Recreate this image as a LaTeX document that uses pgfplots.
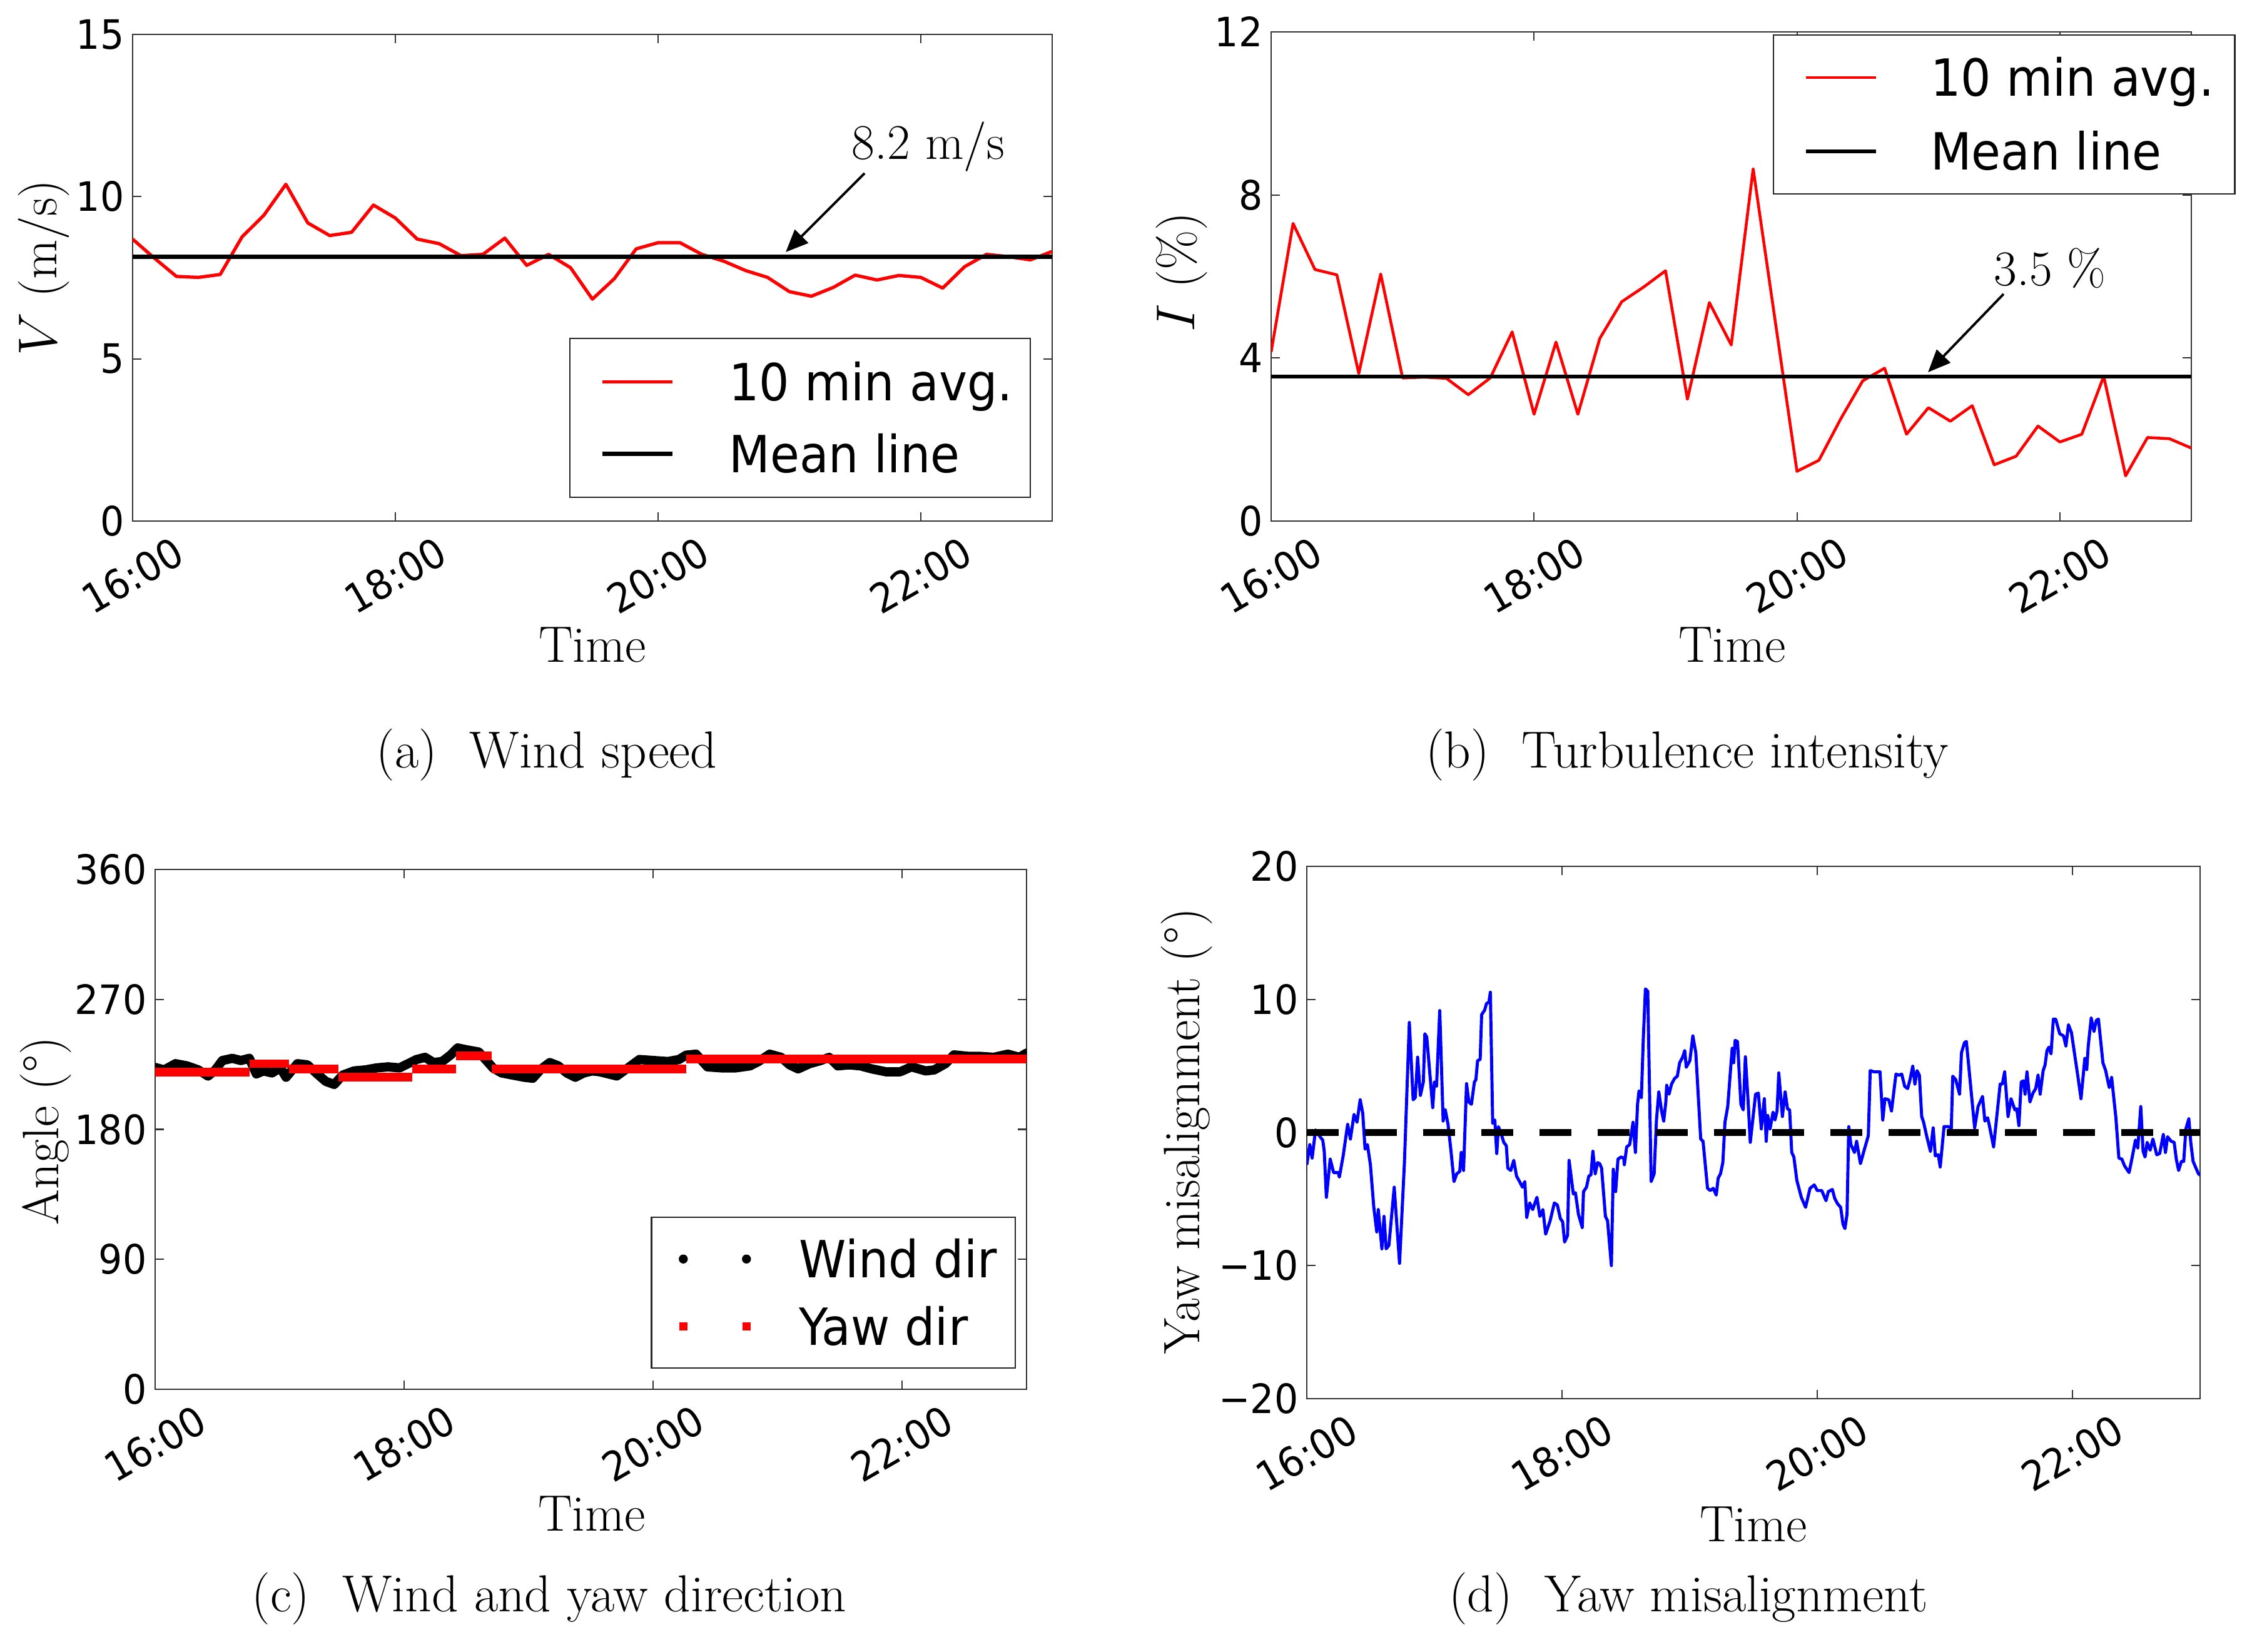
\documentclass[border=0pt]{standalone}
\usepackage{fontspec}
\usepackage{pgfplots}
\pgfplotsset{compat=1.18}
\usetikzlibrary{arrows.meta}
\newfontfamily\sansfam[FakeStretch=0.93]{DejaVu Sans}
\newcommand\tickfont{\sansfam\fontsize{18.4}{22}\selectfont}
\newcommand\legfont{\sansfam\fontsize{23.3}{27}\selectfont}
\newcommand\labfont{\fontsize{23.3}{27}\selectfont}
\newcommand\annfont{\fontsize{22.7}{27}\selectfont}
\newcommand\capfont{\fontsize{23.7}{28}\selectfont}

\pgfplotsset{
  panel/.style={
    scale only axis,
    xmin=0, xmax=420,
    xtick={0,120,240,360},
    xticklabels={16:00,18:00,20:00,22:00},
    axis line style={draw=black!80, line width=0.8pt},
    tick style={black!80, line width=0.6pt},
    major tick length=1.4mm,
    tick align=inside,
    ticklabel style={font=\tickfont},
    xticklabel style={yshift=-8.7mm, rotate=30, anchor=center, inner sep=0pt},
    yticklabel style={anchor=east, inner sep=0pt, xshift=-1.3mm},
    xlabel={Time},
    xlabel style={font=\labfont, anchor=center},
    ylabel style={font=\labfont, anchor=center},
    legend cell align=left,
  },
}

\begin{document}
\begin{tikzpicture}
\useasboundingbox (0,0) rectangle (359.2mm,264mm);

% ---------------- (a) Wind speed
\begin{axis}[panel,
  at={(21.2mm,180.7mm)}, anchor=south west,
  width=147mm, height=77.8mm,
  ymin=0, ymax=15, ytick={0,5,10,15}, yticklabels={0,5,10,15},
  ylabel={$V$ (m/s)},
  ylabel style={at={(axis description cs:-0.0966,0.5206)}},
  xlabel style={at={(axis description cs:0.5,-0.2545)}},
  legend style={at={(axis description cs:0.4748,0.3766)}, anchor=north west,
    draw=black!85, line width=0.7pt, fill=white,
    inner xsep=2.8mm, inner ysep=4.0mm, row sep=5.6mm, font=\legfont,
    nodes={inner xsep=0pt, inner ysep=0pt, text height=5.9mm, text depth=0pt},
    /tikz/every odd column/.append style={column sep=8.7mm}},
  legend image code/.code={\path[draw=none,fill=none] (0mm,0mm) -- (13.6mm,0mm); \draw[#1] (2.4mm,0mm) -- (13.6mm,0mm);},
]
\addplot[red, line width=1.5pt, line join=round] table {
0 8.69
10 8.10
20 7.54
30 7.51
40 7.60
50 8.76
60 9.43
70 10.38
80 9.19
90 8.80
100 8.90
110 9.74
120 9.34
130 8.69
140 8.55
150 8.18
160 8.22
170 8.72
180 7.88
190 8.22
200 7.81
210 6.84
220 7.47
230 8.39
240 8.58
250 8.58
260 8.22
270 8.01
280 7.72
290 7.51
300 7.07
310 6.93
320 7.20
330 7.58
340 7.43
350 7.57
360 7.51
370 7.18
380 7.84
390 8.22
400 8.15
410 8.05
420 8.31
};
\addlegendentry{10 min avg.}
\addplot[black, line width=1.9pt] coordinates {(0,8.15) (420,8.15)};
\addlegendentry{Mean line}
\draw[-{Triangle[length=3.6mm,width=3.0mm]}, line width=1.1pt] (axis cs:334.3,10.72) -- (axis cs:298.3,8.29);
\node[font=\annfont] at (axis cs:363.4,11.53) {8.2 m/s};
\end{axis}

% ---------------- (b) Turbulence intensity
\begin{axis}[panel,
  at={(203.2mm,180.7mm)}, anchor=south west,
  width=147.1mm, height=78.2mm,
  ymin=0, ymax=12, ytick={0,4,8,12}, yticklabels={0,4,8,12},
  ylabel={$I$ (\%)},
  ylabel style={at={(axis description cs:-0.0972,0.509)}},
  xlabel style={at={(axis description cs:0.501,-0.2532)}},
  legend style={at={(axis description cs:0.5452,0.9949)}, anchor=north west,
    draw=black!85, line width=0.7pt, fill=white,
    inner xsep=3.3mm, inner ysep=3.85mm, row sep=5.9mm, font=\legfont,
    nodes={inner xsep=0pt, inner ysep=0pt, text height=5.9mm, text depth=0pt},
    /tikz/every odd column/.append style={column sep=8.4mm}},
  legend image code/.code={\path[draw=none,fill=none] (0mm,0mm) -- (13.1mm,0mm); \draw[#1] (1.9mm,0mm) -- (13.1mm,0mm);},
]
\addplot[red, line width=1.3pt, line join=round] table {
0 4.15
10 7.30
20 6.17
30 6.04
40 3.62
50 6.06
60 3.51
70 3.53
80 3.50
90 3.10
100 3.51
110 4.64
120 2.62
130 4.39
140 2.62
150 4.48
160 5.38
170 5.74
180 6.14
190 2.99
200 5.36
210 4.32
220 8.64
230 4.93
240 1.22
250 1.49
260 2.51
270 3.44
280 3.75
290 2.13
300 2.78
310 2.45
320 2.83
330 1.38
340 1.59
350 2.33
360 1.94
370 2.13
380 3.55
390 1.11
400 2.05
410 2.02
420 1.79
};
\addlegendentry{10 min avg.}
\addplot[black, line width=1.7pt] coordinates {(0,3.55) (420,3.55)};
\addlegendentry{Mean line}
\draw[-{Triangle[length=3.6mm,width=3.0mm]}, line width=1.1pt] (axis cs:334.3,5.57) -- (axis cs:299.8,3.65);
\node[font=\annfont] at (axis cs:355.5,6.20) {3.5 \%};
\end{axis}

% ---------------- (c) Wind and yaw direction
\begin{axis}[panel,
  at={(24.8mm,41.9mm)}, anchor=south west,
  width=139.3mm, height=83.1mm,
  ymin=0, ymax=360, ytick={0,90,180,270,360}, yticklabels={0,90,180,270,360},
  ylabel={Angle (\textdegree)},
  ylabel style={at={(axis description cs:-0.1256,0.497)}},
  xlabel style={at={(axis description cs:0.501,-0.2395)}},
  unbounded coords=jump,
  legend style={at={(axis description cs:0.5686,0.3321)}, anchor=north west,
    draw=black!85, line width=0.7pt, fill=white,
    inner xsep=2.9mm, inner ysep=3.7mm, row sep=4.9mm, font=\legfont,
    nodes={inner xsep=0pt, inner ysep=0pt, text height=5.9mm, text depth=0pt},
    /tikz/every odd column/.append style={column sep=6.7mm}},
]
\addplot[black, line width=4.2pt, line join=round, line cap=round,
  legend image code/.code={\path[draw=none,fill=none] (0mm,0mm) -- (14mm,0mm); \fill[black,draw=none] (2.2mm,0mm) circle (0.72mm); \fill[black,draw=none] (12.3mm,0mm) circle (0.72mm);}]
table {
0.0 222.9
4.4 221.2
9.8 225.5
15.3 224.0
20.8 221.2
25.5 216.9
29.0 221.2
32.4 227.7
37.2 229.2
41.3 227.7
45.4 229.2
48.8 218.4
52.2 220.5
56.3 219.1
60.4 222.6
63.1 216.1
68.6 225.5
73.4 224.7
78.1 218.4
82.2 213.3
86.3 211.1
90.4 217.6
95.9 220.5
101.4 221.2
106.8 222.6
112.3 223.3
117.8 222.6
121.9 225.5
126.0 228.4
130.1 229.9
134.2 226.3
138.3 227.0
142.3 231.4
145.8 236.4
150.5 235.0
156.0 233.6
160.1 227.0
162.8 222.6
167.0 219.1
172.4 217.6
177.9 216.1
182.0 215.4
186.1 221.9
190.2 226.3
194.3 224.0
198.4 219.1
202.5 216.1
206.6 219.1
210.7 220.5
214.3 219.9
222.5 217.0
227.9 222.6
233.4 228.4
240.2 227.7
247.1 227.0
252.5 228.4
255.9 231.4
260.7 232.1
266.2 223.3
273.0 222.6
279.8 222.6
286.7 224.0
290.8 227.0
296.2 232.1
301.7 229.9
305.8 224.7
309.9 221.9
315.4 225.5
320.8 227.7
324.9 229.9
329.0 224.0
334.5 224.7
339.9 224.0
345.4 221.9
352.2 219.9
359.1 219.9
364.5 223.3
371.4 220.5
375.5 221.2
380.9 225.5
385.0 231.6
391.9 230.6
397.3 230.6
404.2 229.9
411.0 232.1
416.5 229.9
420.0 232.8
};
\addlegendentry{Wind dir}
\addplot[red, line width=3.9pt, line cap=butt,
  legend image code/.code={\path[draw=none,fill=none] (0mm,0mm) -- (14mm,0mm); \fill[red,draw=none] (1.55mm,-0.65mm) rectangle (2.85mm,0.65mm); \fill[red,draw=none] (11.65mm,-0.65mm) rectangle (12.95mm,0.65mm);}]
coordinates {
(0,219.7) (45.4,219.7) (45.4,nan)
(45.4,225.5) (64.5,225.5) (64.5,nan)
(64.5,221.9) (88.4,221.9) (88.4,nan)
(88.4,216.1) (123.9,216.1) (123.9,nan)
(123.9,221.9) (145.1,221.9) (145.1,nan)
(145.1,231.0) (162.2,231.0) (162.2,nan)
(162.2,221.9) (255.9,221.9) (255.9,nan)
(255.9,228.7) (420,228.7)
};
\addlegendentry{Yaw dir}
\end{axis}

% ---------------- (d) Yaw misalignment
\begin{axis}[panel,
  at={(208.9mm,40.4mm)}, anchor=south west,
  width=142.8mm, height=85.1mm,
  ymin=-20, ymax=20, ytick={-20,-10,0,10,20}, yticklabels={−20,−10,0,10,20},
  ylabel={Yaw misalignment (\textdegree)},
  ylabel style={at={(axis description cs:-0.1345,0.503)}},
  xlabel style={at={(axis description cs:0.5,-0.2362)}},
]
\addplot[blue, line width=1.4pt, line join=round] table {
0.0 -2.42
1.4 -0.91
2.5 -1.92
4.1 0.19
6.6 -0.40
7.5 -0.57
8.2 -1.41
9.2 -4.87
11.0 -2.00
12.6 -3.01
14.8 -3.01
15.3 -3.35
17.1 -1.75
19.2 0.61
20.5 -0.49
22.2 1.36
23.6 0.77
25.1 2.46
26.3 1.45
27.4 -1.25
28.5 -0.91
29.9 -2.42
31.5 -5.62
32.9 -7.47
33.6 -5.79
35.3 -8.74
36.3 -6.30
37.3 -8.74
38.6 -8.48
41.1 -4.11
43.6 -9.83
45.9 -2.26
48.2 8.27
50.0 2.46
51.0 2.63
52.1 5.66
53.4 2.79
54.8 3.80
55.5 7.42
56.4 7.17
59.2 1.87
60.0 3.80
61.0 3.47
62.5 9.16
64.1 0.86
65.1 1.70
66.4 0.61
67.8 -1.41
69.2 -3.69
70.5 -3.10
71.9 -2.93
72.6 -1.50
73.7 -2.85
75.1 3.67
76.2 2.29
77.4 2.12
78.8 3.80
79.5 3.97
80.3 5.40
81.5 5.49
82.2 8.86
83.6 9.19
84.5 9.70
85.6 9.78
86.3 10.54
87.4 0.69
88.4 0.94
89.3 -1.58
90.1 0.44
91.5 -0.15
92.6 -0.74
93.8 -0.99
94.5 -2.68
95.9 -2.85
97.3 -2.09
98.6 -3.27
100.3 -3.77
101.4 -4.11
102.5 -3.69
103.4 -6.38
104.8 -5.29
106.2 -5.79
108.2 -4.87
109.6 -6.30
111.0 -5.79
112.3 -7.64
114.4 -6.63
116.4 -5.29
117.8 -5.45
119.2 -6.46
120.3 -6.72
121.2 -8.23
122.6 -7.73
123.3 -2.09
125.3 -4.61
126.3 -4.53
127.7 -6.13
129.5 -7.14
130.1 -4.44
131.5 -4.11
132.6 -3.27
133.6 -3.18
134.5 -1.41
135.6 -3.10
136.7 -2.26
137.7 -2.34
138.6 -2.68
140.4 -6.30
141.4 -6.63
143.2 -10.00
144.1 -2.76
145.2 -4.44
146.3 -2.00
147.7 -1.84
149.0 -1.92
149.3 -2.42
150.4 -1.08
151.8 -0.91
153.4 0.77
154.5 -1.50
155.5 2.12
156.2 3.13
157.3 2.63
158.2 7.00
159.2 10.79
160.3 10.62
161.9 -3.69
163.3 -3.10
164.4 0.94
165.5 3.05
166.8 1.62
167.8 0.86
168.8 2.29
169.2 3.55
170.3 2.88
171.5 3.64
172.9 4.06
174.2 4.23
175.3 5.24
176.7 5.66
177.7 6.16
178.4 4.90
180.1 5.40
181.5 7.26
182.9 5.99
185.2 -0.49
186.3 -0.66
188.4 -4.19
189.7 -4.36
191.1 -4.19
192.5 -4.70
193.4 -3.43
194.5 -3.10
195.6 -2.26
196.6 0.77
197.9 1.95
200.0 6.33
200.7 5.24
201.4 6.92
202.5 6.84
204.1 2.12
205.2 1.70
206.2 5.69
207.5 2.29
208.5 -0.74
211.0 2.88
212.3 2.96
213.7 0.27
215.1 2.54
216.0 -0.66
216.7 1.28
217.8 0.27
219.2 1.53
220.1 0.94
221.1 1.62
221.9 4.48
223.6 1.20
224.9 3.05
226.0 1.78
227.0 1.70
228.0 -1.50
229.0 -1.84
230.4 -3.60
232.5 -4.87
234.5 -5.62
236.6 -4.19
238.6 -3.94
240.0 -4.36
242.1 -4.36
244.1 -5.12
245.2 -4.44
247.1 -4.28
248.2 -4.95
249.6 -5.37
251.0 -5.62
252.1 -6.89
253.0 -7.22
254.0 -6.13
254.8 0.44
255.8 -0.91
257.5 -1.50
258.5 -0.66
260.3 -2.34
261.9 -1.41
264.0 -0.24
264.9 4.65
266.7 4.56
268.1 4.56
269.5 4.56
270.8 0.94
271.8 2.54
273.6 2.46
274.9 1.62
277.0 4.39
278.4 4.31
279.7 4.39
281.1 3.47
282.5 3.30
283.6 3.97
284.9 4.98
285.9 3.64
286.9 4.65
288.0 4.31
289.1 1.20
290.0 0.77
291.4 -0.24
293.2 -1.41
294.5 0.35
295.5 -1.75
296.9 -1.67
297.8 -2.59
299.6 0.44
301.7 0.44
303.0 0.27
303.7 4.23
305.1 3.97
306.9 2.88
307.8 5.99
309.2 6.75
310.1 6.84
314.0 0.35
315.6 1.95
317.7 2.71
318.8 0.86
320.1 1.11
320.8 0.61
322.9 -1.08
326.0 3.64
327.0 3.64
328.1 4.56
329.7 1.20
331.1 2.54
332.9 1.70
333.8 1.78
334.8 0.52
335.9 3.80
337.0 3.89
337.7 2.88
338.6 4.56
340.0 2.29
341.4 2.96
342.7 3.30
343.8 4.31
344.8 2.88
346.2 4.65
347.1 5.07
348.0 6.16
348.9 6.41
349.9 5.91
351.0 8.52
352.1 8.52
354.0 7.42
355.8 7.26
356.9 6.50
358.1 8.10
359.5 7.51
361.2 5.66
362.6 4.14
364.0 2.54
365.8 5.57
366.7 4.73
367.4 6.50
368.8 8.60
370.1 7.59
371.2 8.43
372.2 8.52
374.3 5.24
375.6 4.65
376.7 3.80
377.3 3.38
378.4 4.14
380.4 1.11
381.8 -1.92
383.2 -2.00
384.5 -2.51
386.6 -3.01
388.0 -1.92
389.6 -0.57
390.7 -1.16
392.1 1.95
393.2 -1.41
394.1 -1.84
395.1 -0.74
396.5 -1.33
397.8 -0.49
399.6 -1.67
401.0 -1.58
402.7 -0.15
403.7 -1.50
404.7 -0.32
406.4 -0.66
407.8 -0.74
408.8 -2.00
409.9 -2.85
411.2 -2.17
412.3 -2.17
413.3 0.27
414.7 1.03
415.6 -0.74
416.7 -2.17
419.2 -3.10
420.0 -3.20
};
\addplot[black, line width=3.1pt, dash pattern=on 5.1mm off 4.2mm] coordinates {(0,0) (420,0)};
\end{axis}

% ---------------- captions
\node[font=\capfont] at (87.4mm,143.3mm) {(a)\hspace{5.2mm}Wind speed};
\node[font=\capfont] at (269.7mm,143.3mm) {(b)\hspace{5.2mm}Turbulence intensity};
\node[font=\capfont] at (87.8mm,8.4mm) {(c)\hspace{5.2mm}Wind and yaw direction};
\node[font=\capfont] at (269.9mm,8.4mm) {(d)\hspace{5.2mm}Yaw misalignment};
\end{tikzpicture}
\end{document}
